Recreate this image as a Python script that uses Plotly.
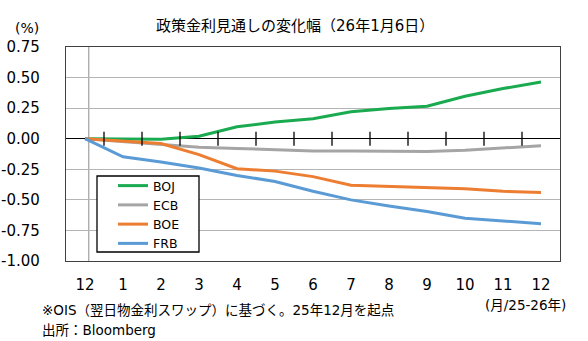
import plotly.graph_objects as go

# ---- data ----
month_labels = ["12", "1", "2", "3", "4", "5", "6", "7", "8", "9", "10", "11", "12"]
boj = [0.00, -0.005, -0.005, 0.02, 0.098, 0.136, 0.164, 0.22, 0.248, 0.265, 0.347, 0.41, 0.464]
ecb = [0.00, -0.025, -0.05, -0.07, -0.08, -0.088, -0.10, -0.10, -0.10, -0.105, -0.095, -0.074, -0.057]
boe = [0.00, -0.02, -0.04, -0.13, -0.245, -0.265, -0.31, -0.38, -0.39, -0.395, -0.41, -0.43, -0.44]
frb = [0.00, -0.148, -0.19, -0.24, -0.30, -0.35, -0.43, -0.50, -0.55, -0.595, -0.65, -0.67, -0.695]
y_tick_vals = [-1.00, -0.75, -0.50, -0.25, 0.00, 0.25, 0.50, 0.75]
y_tick_labels = ["-1.00", "-0.75", "-0.50", "-0.25", "0.00", "0.25", "0.50", "0.75"]

series = [
    ("BOJ", boj, "#1AAA50"),
    ("ECB", ecb, "#A5A5A5"),
    ("BOE", boe, "#ED7D31"),
    ("FRB", frb, "#5B9BD5"),
]

x = list(range(len(month_labels)))
FONT = "DejaVu Sans, Noto Sans CJK JP, sans-serif"

# plot area in pixels (for placing paper-referenced decorations)
PL, PR, PT, PB = 66, 560, 47, 261
PW, PH = PR - PL, PB - PT


def px(xp):
    return (xp - PL) / PW


def py(yp):
    return (PB - yp) / PH


fig = go.Figure()
for name, vals, color in series:
    fig.add_trace(go.Scatter(x=x, y=vals, mode="lines", name=name,
                             line=dict(color=color, width=3)))

# tick marks crossing the zero line, between categories
boundaries = [i + 0.5 for i in range(len(month_labels) - 1)]
fig.add_trace(go.Scatter(x=boundaries, y=[0] * len(boundaries), mode="markers",
                         showlegend=False, hoverinfo="skip",
                         marker=dict(symbol="line-ns", size=10,
                                     line=dict(color="#000000", width=1.3))))

# thin vertical line near the start
fig.add_shape(type="line", xref="x", yref="paper", x0=0.1, x1=0.1, y0=0, y1=1,
              line=dict(color="#8C8C8C", width=1), layer="below")

# legend frame
fig.add_shape(type="rect", xref="paper", yref="paper",
              x0=px(97), x1=px(199), y0=py(252), y1=py(176),
              line=dict(color="#000000", width=1.3), fillcolor="white",
              layer="above")

fig.update_layout(
    width=588, height=341,
    margin=dict(l=PL, r=588 - PR, t=PT, b=341 - PB),
    paper_bgcolor="white", plot_bgcolor="white",
    font=dict(family=FONT, size=15, color="#000000"),
    title=dict(text="政策金利見通しの変化幅（26年1月6日）", x=0.502, xanchor="center",
               y=1 - 26 / 341, yanchor="middle",
               font=dict(family=FONT, size=15, color="#000000")),
    legend=dict(x=px(113), y=py(171), xanchor="left", yanchor="top",
                bgcolor="rgba(0,0,0,0)", borderwidth=0,
                font=dict(family=FONT, size=12.5, color="#000000"),
                tracegroupgap=0, itemwidth=30),
    showlegend=True,
)

fig.update_xaxes(
    range=[-0.5, len(month_labels) - 0.5],
    tickmode="array", tickvals=x, ticktext=month_labels,
    showgrid=False, zeroline=False, automargin=False,
    showline=True, linecolor="#404040", linewidth=1.3, mirror=True,
    ticks="", ticklabelstandoff=10,
    tickfont=dict(family=FONT, size=15),
)
fig.update_yaxes(
    range=[-1.0, 0.75],
    tickmode="array", tickvals=y_tick_vals, ticktext=y_tick_labels,
    showgrid=True, gridcolor="#B4B4B4", gridwidth=1, automargin=False,
    zeroline=True, zerolinecolor="#000000", zerolinewidth=1.3,
    showline=True, linecolor="#404040", linewidth=1.3, mirror=True,
    ticks="", ticklabelstandoff=22,
    tickfont=dict(family=FONT, size=15),
)

fig.add_annotation(text="(%)", xref="paper", yref="paper",
                   x=px(27), y=py(28),
                   xanchor="center", yanchor="middle", showarrow=False,
                   font=dict(family=FONT, size=14))
fig.add_annotation(text="※OIS（翌日物金利スワップ）に基づく。25年12月を起点", xref="paper", yref="paper",
                   x=px(40), y=py(310),
                   xanchor="left", yanchor="middle", showarrow=False,
                   font=dict(family=FONT, size=13.5))
fig.add_annotation(text="出所：Bloomberg", xref="paper", yref="paper",
                   x=px(40), y=py(330),
                   xanchor="left", yanchor="middle", showarrow=False,
                   font=dict(family=FONT, size=13.5))
fig.add_annotation(text="(月/25-26年)", xref="paper", yref="paper",
                   x=px(568), y=py(305),
                   xanchor="right", yanchor="middle", showarrow=False,
                   font=dict(family=FONT, size=13.5))

fig.write_html("out.html")
